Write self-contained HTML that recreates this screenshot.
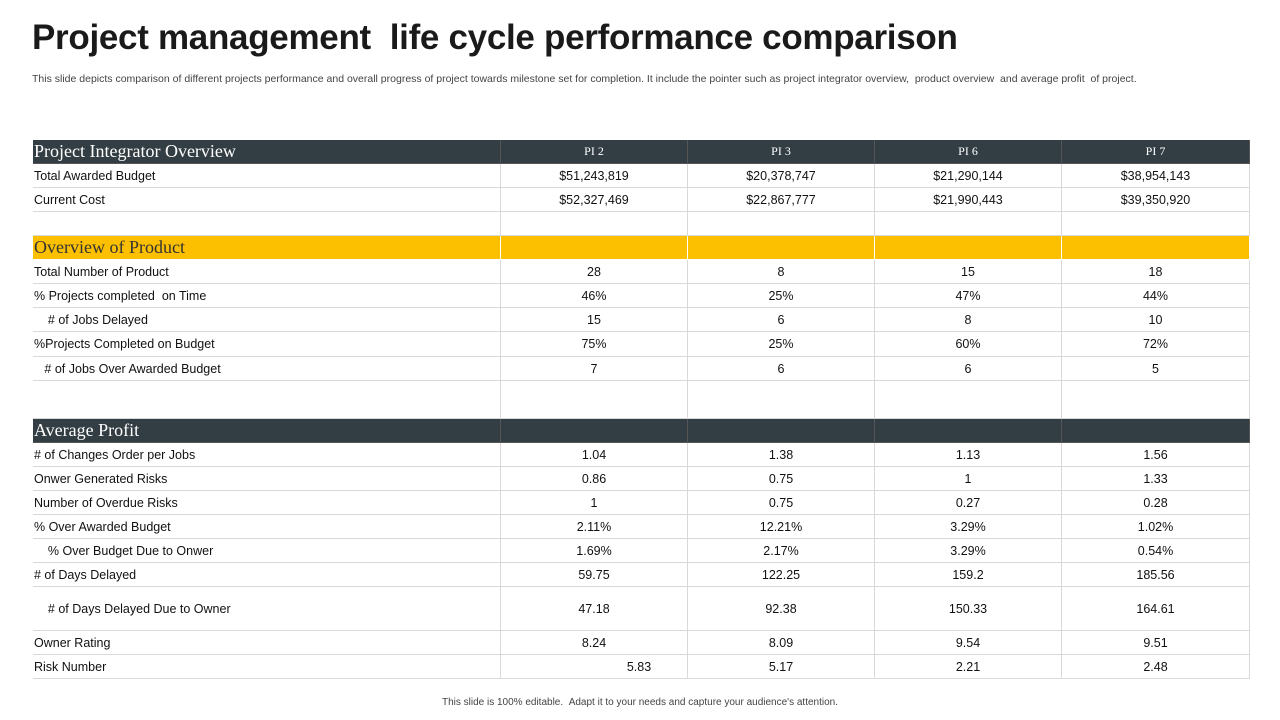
<!DOCTYPE html>
<html><head><meta charset="utf-8"><style>
body{margin:0;width:1280px;height:720px;background:#fff;font-family:"Liberation Sans",sans-serif;position:relative;overflow:hidden}
h1{position:absolute;left:32px;top:18px;margin:0;font-size:35px;font-weight:bold;color:#1a1a1a;letter-spacing:-0.3px}
.sub{position:absolute;left:32px;top:72px;width:1200px;font-size:10.5px;line-height:14px;color:#444}
.foot{position:absolute;left:0;width:1280px;top:697px;text-align:center;font-size:10px;color:#444}
.c{position:absolute;box-sizing:border-box;border-right:1px solid #d9d9d9;border-bottom:1px solid #d9d9d9;font-size:12.5px;color:#111;display:flex;align-items:center;white-space:pre}
.v{justify-content:center}
.l{padding-left:1px}
.dark{background:#333e44;color:#fff;border-color:#555}
.yel{background:#fcc000;color:#333;border-color:#fff}
.sec{font-family:"Liberation Serif",serif;font-size:18px}
.hd{font-family:"Liberation Serif",serif;font-size:12px}
</style></head><body>
<h1>Project management &nbsp;life cycle performance comparison</h1>
<div class="sub">This slide depicts comparison of different projects performance and overall progress of project towards milestone set for completion. It include the pointer such as project integrator overview, &nbsp;product overview &nbsp;and average profit &nbsp;of project.</div>
<div id="tbl" style="position:absolute;left:0;top:0;border-left:1px solid #d9d9d9"></div>
<div class="foot">This slide is 100% editable. &nbsp;Adapt it to your needs and capture your audience's attention.</div>
<script>
const colEdges=[32,500,687,874,1061,1249];
const rowEdges=[140,164,188,212,236,260,284,308,332,357,381,419,443,467,491,515,539,563,587,631,655,679];
const rows=[
["dark","Project Integrator Overview","PI 2","PI 3","PI 6","PI 7"],
["","Total Awarded Budget","$51,243,819","$20,378,747","$21,290,144","$38,954,143"],
["","Current Cost","$52,327,469","$22,867,777","$21,990,443","$39,350,920"],
["","","","","",""],
["yel","Overview of Product","","","",""],
["","Total Number of Product","28","8","15","18"],
["","% Projects completed  on Time","46%","25%","47%","44%"],
["","    # of Jobs Delayed","15","6","8","10"],
["","%Projects Completed on Budget","75%","25%","60%","72%"],
["","   # of Jobs Over Awarded Budget","7","6","6","5"],
["","","","","",""],
["dark","Average Profit","","","",""],
["","# of Changes Order per Jobs","1.04","1.38","1.13","1.56"],
["","Onwer Generated Risks","0.86","0.75","1","1.33"],
["","Number of Overdue Risks","1","0.75","0.27","0.28"],
["","% Over Awarded Budget","2.11%","12.21%","3.29%","1.02%"],
["","    % Over Budget Due to Onwer","1.69%","2.17%","3.29%","0.54%"],
["","# of Days Delayed","59.75","122.25","159.2","185.56"],
["","    # of Days Delayed Due to Owner","47.18","92.38","150.33","164.61"],
["","Owner Rating","8.24","8.09","9.54","9.51"],
["","Risk Number","5.83","5.17","2.21","2.48"]
];
const t=document.getElementById('tbl');
rows.forEach((r,i)=>{
 for(let j=0;j<5;j++){
  const d=document.createElement('div');
  
  
  let cls='c '+(j===0?'l':'v')+(r[0]?' '+r[0]:'');
  if(r[0]&&j===0)cls+=' sec';
  if(r[0]==='dark'&&i===0&&j>0)cls+=' hd';
  d.className=cls;
  d.style.left=colEdges[j]+'px';d.style.width=(colEdges[j+1]-colEdges[j])+'px';
  d.style.top=rowEdges[i]+'px';d.style.height=(rowEdges[i+1]-rowEdges[i])+'px';
  if(i===rows.length-1&&j===1)d.style.paddingLeft='90px';
  d.textContent=r[j+1];
  t.appendChild(d);
 }
});
</script>
</body></html>
